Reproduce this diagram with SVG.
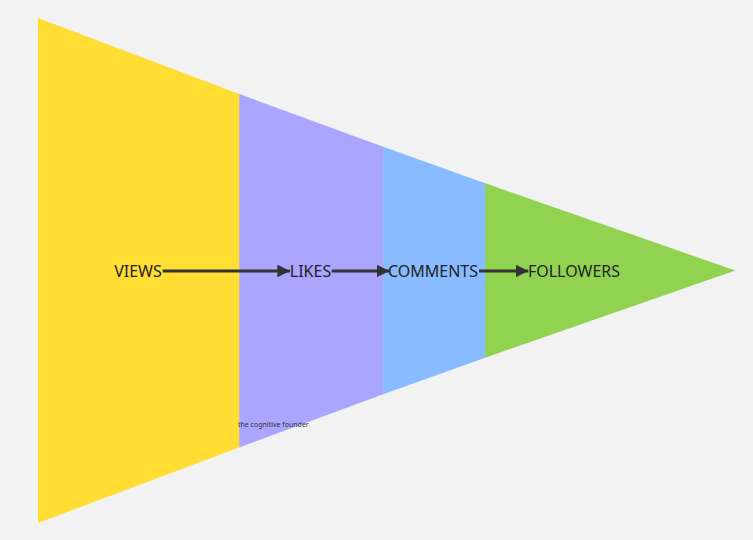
<svg xmlns="http://www.w3.org/2000/svg" width="753" height="540" viewBox="0 0 753 540">
<defs>
<marker id="ah" viewBox="0 0 10 10" refX="10" refY="5" markerWidth="4.2" markerHeight="4.2" orient="auto" markerUnits="strokeWidth">
<path d="M0,0 L10,5 L0,10 Z" fill="#333333"/>
</marker>
</defs>
<style>
.lbl{font-family:"Noto Sans","Open Sans","Liberation Sans",sans-serif;font-size:16px;fill:#222222;text-anchor:middle}
.con{stroke:#333333;stroke-width:3;fill:none}
.small{font-family:"Noto Sans","Open Sans","Liberation Sans",sans-serif;font-size:7px;fill:#333333}
</style>
<rect width="753" height="540" fill="#f2f2f2"/>
<g id="views">
<polygon points="38,18 239.8,94.2 239.8,447.3 38,523" fill="#ffdd33"/>
<text class="lbl" x="138" y="277">VIEWS</text>
</g>
<g id="likes">
<polygon points="239.3,94 383.8,146.9 383.8,394.1 239.3,447.5" fill="#aaa5ff"/>
<text class="lbl" x="310.5" y="277">LIKES</text>
</g>
<g id="comments">
<polygon points="383.3,146.7 485.8,183.5 485.8,357.5 383.3,394.3" fill="#88bbff"/>
<text class="lbl" x="433" y="277">COMMENTS</text>
</g>
<g id="followers">
<polygon points="485.3,183.3 735.3,270.5 485.3,357.7" fill="#91d351"/>
<text class="lbl" x="574" y="277">FOLLOWERS</text>
</g>
<g id="connectors">
<line class="con" x1="162.7" y1="271" x2="290" y2="271" marker-end="url(#ah)"/>
<line class="con" x1="331.7" y1="271" x2="389.3" y2="271" marker-end="url(#ah)"/>
<line class="con" x1="479" y1="271" x2="528.3" y2="271" marker-end="url(#ah)"/>
</g>
<text class="small" x="238" y="427">the cognitive founder</text>
</svg>
